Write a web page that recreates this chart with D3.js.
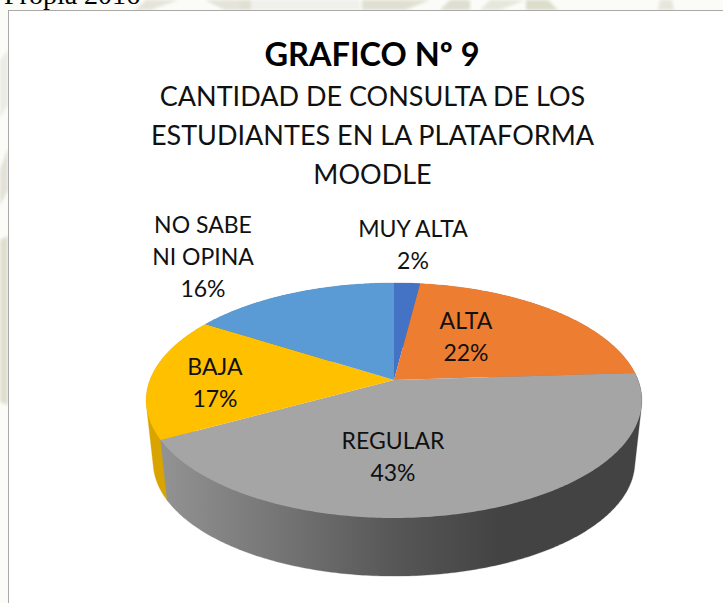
<!DOCTYPE html>
<html><head><meta charset="utf-8">
<script src="https://cdn.jsdelivr.net/npm/d3@7"></script>
<style>html,body{margin:0;padding:0;background:#fff;overflow:hidden}svg{display:block}</style>
</head><body><svg id="c" width="723" height="603"></svg>
<script>
const categories = ["MUY ALTA","ALTA","REGULAR","BAJA","NO SABE NI OPINA"];
const values = [2,22,43,17,16];
const labelLines = [["MUY ALTA"],["ALTA"],["REGULAR"],["BAJA"],["NO SABE","NI OPINA"]];
const colors = ["#4472C4","#ED7D31","#A5A5A5","#FFC000","#5B9BD5"];
const wallColors = ["#36599c","#bd6327","url(#wallGrey)","#d9a400","#487cab"];
const wallOrder = [0,1,4,3,2];
const titleText = "GRAFICO Nº 9";
const subtitleLines = ["CANTIDAD DE CONSULTA DE LOS","ESTUDIANTES EN LA PLATAFORMA","MOODLE"];

const W=723,H=603, cx=394, cy=380;
const rx=244, ry=113.9, k=0.1745;
const depthScale=0.972, depthShift=62;
const font="Lato, Carlito, Calibri, sans-serif";

const svg=d3.select("#c");
const defs=svg.append("defs");
defs.append("filter").attr("id","soft").append("feGaussianBlur").attr("stdDeviation",1.6);
const g=defs.append("linearGradient").attr("id","wallGrey").attr("gradientUnits","userSpaceOnUse")
  .attr("x1",160).attr("x2",500).attr("y1",0).attr("y2",0);
[[0,"#939393"],[0.35,"#757575"],[0.7,"#565656"],[1,"#434343"]].forEach(s=>g.append("stop").attr("offset",s[0]).attr("stop-color",s[1]));

// page behind the chart: faint watermark
svg.append("rect").attr("width",W).attr("height",H).attr("fill","#fbfbf8");
const wm=svg.append("g").attr("filter","url(#soft)");
const wmPatches=[
 [[[0,240],[8,236],[8,405],[0,402]],"#dfdfd0"],
 [[[0,170],[8,148],[8,190],[0,205]],"#e2e2d8"],
 [[[0,60],[8,50],[8,105],[0,118]],"#ecece6"],
 [[[146,0],[178,0],[150,10],[135,10]],"#e4e4da"],
 [[[205,0],[240,0],[252,10],[225,10]],"#e4e4da"],
 [[[240,0],[251,0],[251,10],[240,10]],"#e0e0d2"],
 [[[251,0],[360,0],[360,10],[251,10]],"#f1f1ec"],
 [[[362,0],[430,0],[405,10],[362,10]],"#e0e0d2"],
 [[[450,0],[470,0],[470,10],[440,10]],"#dedfd0"],
 [[[490,0],[525,0],[500,10],[480,10]],"#e6e7dc"],
 [[[526,0],[548,0],[558,10],[526,10]],"#dcddcb"],
 [[[660,0],[672,0],[674,10],[658,10]],"#e6e6dc"]
];
wm.selectAll("polygon").data(wmPatches).join("polygon")
  .attr("points",d=>d[0].join(" ")).attr("fill",d=>d[1]);

svg.append("text").attr("x",4).attr("y",4).attr("font-family","Liberation Serif, serif")
  .attr("font-size",28).attr("fill","#000").text("Propia 2016");

// chart area
svg.append("rect").attr("x",8.5).attr("y",10.5).attr("width",W).attr("height",H).attr("fill","#fff").attr("stroke","#a9a9a9").attr("stroke-width",1);

// projection of the tilted disc (perspective)
function topEdge(a){const u=Math.sin(a),v=Math.cos(a),s=1/(1+k*v);return [cx+rx*u*s, cy-ry*v*s];}
function bottomEdge(a){const p=topEdge(a);return [cx+(p[0]-cx)*depthScale, cy+depthShift+(p[1]-cy)*depthScale];}
const line=d3.line();
const pie=d3.pie().sort(null).startAngle(0).endAngle(2*Math.PI);
const arcs=pie(values);
const samples=a=>{const n=Math.max(2,Math.ceil((a.endAngle-a.startAngle)*80));return d3.range(n+1).map(i=>a.startAngle+(a.endAngle-a.startAngle)*i/n);};

// walls: hull of each slice's top and bottom arcs; the top faces hide what must stay hidden
const chart=svg.append("g");
chart.selectAll("path.wall").data(wallOrder.map(i=>arcs[i])).join("path").attr("class","wall")
  .attr("d",a=>{const t=samples(a);return line(d3.polygonHull([...t.map(topEdge),...t.map(bottomEdge)]))+"Z";})
  .attr("fill",a=>wallColors[a.index]).attr("stroke",a=>wallColors[a.index]).attr("stroke-width",0.3);
chart.selectAll("path.face").data(arcs).join("path").attr("class","face")
  .attr("d",a=>line([[cx,cy],...samples(a).map(topEdge)])+"Z")
  .attr("fill",(a,i)=>colors[i]);

// titles
svg.append("text").attr("x",372).attr("y",66).attr("text-anchor","middle").attr("font-family",font)
  .attr("font-weight",700).attr("font-size",32.5).attr("fill","#000").text(titleText);
subtitleLines.forEach((t,i)=>svg.append("text").attr("x",372.5).attr("y",106+39*i).attr("text-anchor","middle")
  .attr("font-family",font).attr("font-size",27).attr("fill","#111").text(t));

// data labels: offsets from the pie centre
const labelDx=[19,72,-1,-179,-191], labelDy=[-143,-51,69,-5,-147];
const pitch=32;
arcs.forEach((a,i)=>{
  const lines=[...labelLines[i],values[i]+"%"];
  lines.forEach((t,j)=>svg.append("text").attr("x",cx+labelDx[i]).attr("y",cy+labelDy[i]+j*pitch)
    .attr("text-anchor","middle").attr("font-family",font).attr("font-size",23).attr("fill","#111").text(t));
});
</script></body></html>
